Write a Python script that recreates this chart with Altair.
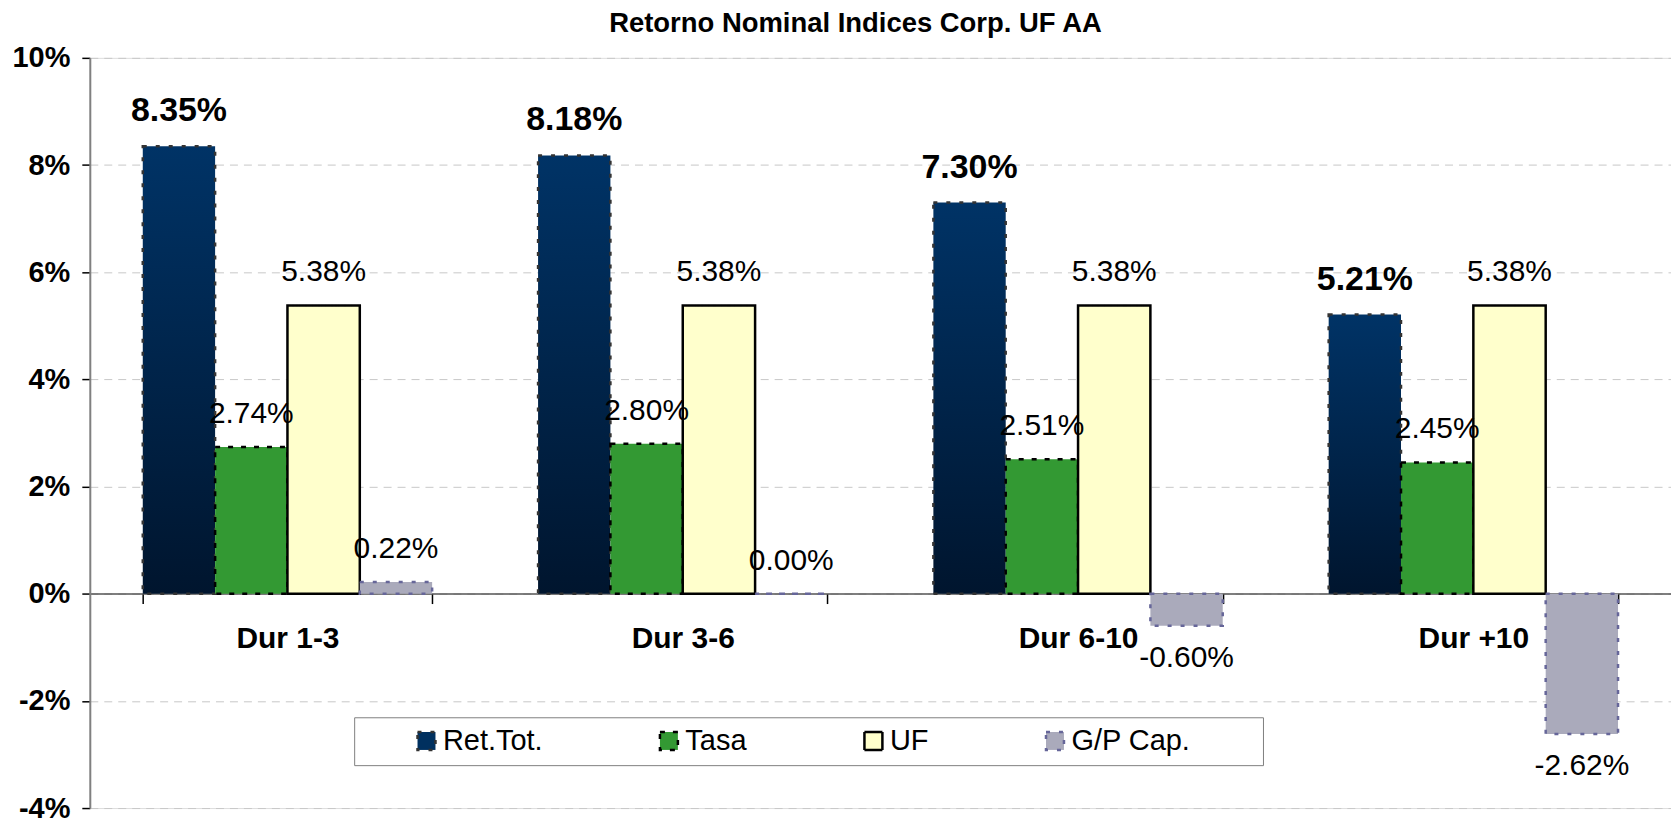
import altair as alt
import pandas as pd

# ---- data ----
categories = ["Dur 1-3", "Dur 3-6", "Dur 6-10", "Dur +10"]
series_names = ["Ret.Tot.", "Tasa", "UF", "G/P Cap."]
ret_tot = [8.35, 8.18, 7.30, 5.21]
tasa = [2.74, 2.80, 2.51, 2.45]
uf = [5.38, 5.38, 5.38, 5.38]
gp_cap = [0.22, 0.00, -0.60, -2.62]
y_ticks = [-4, -2, 0, 2, 4, 6, 8, 10]

title_text = "Retorno Nominal  Indices Corp. UF AA"

fills = ["#00305f", "#339933", "#ffffcc", "#aaaabb"]
strokes = ["#333333", "#000000", "#000000", "#666699"]
dashes = [[4, 9], [5, 8], [1, 0], [4, 9]]

rows = []
for s, vals in zip(series_names, [ret_tot, tasa, uf, gp_cap]):
    for c, v in zip(categories, vals):
        rows.append({"category": c, "series": s, "value": v})
df = pd.DataFrame(rows)

FONT = "Liberation Sans"
PAD_CHAR = "\u2800"

gradient = {
    "gradient": "linear",
    "x1": 0, "y1": 0, "x2": 0, "y2": 1,
    "stops": [
        {"offset": 0, "color": "#003366"},
        {"offset": 1, "color": "#00152e"},
    ],
}

x_enc = alt.X(
    "category:N",
    sort=categories,
    scale=alt.Scale(domain=categories, paddingInner=0.268, paddingOuter=0.134),
    title=None,
    axis=alt.Axis(
        offset=-215,
        grid=False,
        tickBand="extent",
        tickSize=10,
        tickColor="#000000",
        tickWidth=1.5,
        domainColor="#555555",
        domainWidth=1.5,
        labelFont=FONT,
        labelFontSize=30,
        labelFontWeight="bold",
        labelColor="#000000",
        labelAngle=0,
        labelBaseline="alphabetic",
        labelPadding=44,
    ),
)
xo_enc = alt.XOffset(
    "series:N",
    sort=series_names,
    scale=alt.Scale(domain=series_names, paddingInner=0, paddingOuter=0),
)
y_enc = alt.Y(
    "value:Q",
    scale=alt.Scale(domain=[-4, 10], nice=False, zero=False),
    title=None,
    axis=alt.Axis(
        values=y_ticks,
        labelExpr="datum.value + '%'",
        labelFont=FONT,
        labelFontSize=29,
        labelFontWeight="bold",
        labelColor="#000000",
        labelPadding=12,
        tickSize=8,
        tickColor="#000000",
        tickWidth=1.5,
        domainColor="#808080",
        domainWidth=2,
        grid=True,
        gridColor="#c8c8c8",
        gridDash=[8, 6],
        gridWidth=1,
    ),
)

legend = alt.Legend(
    orient="none",
    legendX=265,
    legendY=661,
    direction="horizontal",
    title="MM",
    titleOrient="left",
    titleColor="#ffffff",
    titleFont=FONT,
    titleFontSize=29,
    titlePadding=0,
    labelFont=FONT,
    labelFontSize=29,
    labelColor="#000000",
    labelLimit=400,
    labelOffset=2,
    labelExpr="datum.label == 'G/P Cap.' ? datum.label + '" + PAD_CHAR * 3 + "' : datum.label",
    symbolType="square",
    symbolSize=324,
    symbolStrokeWidth=2.5,
    columnPadding=112,
    strokeColor="#808080",
    fillColor="#ffffff",
    padding=9,
)

base = alt.Chart(df)

bars = base.mark_bar(strokeWidth=2.5).encode(
    x=x_enc,
    xOffset=xo_enc,
    y=y_enc,
    fill=alt.condition(
        alt.datum.series == "Ret.Tot.",
        alt.value(gradient),
        alt.Fill("series:N", sort=series_names,
                 scale=alt.Scale(domain=series_names, range=fills), legend=legend),
    ),
    stroke=alt.Stroke("series:N", sort=series_names,
                      scale=alt.Scale(domain=series_names, range=strokes), legend=legend),
    strokeDash=alt.StrokeDash("series:N", sort=series_names,
                              scale=alt.Scale(domain=series_names, range=dashes), legend=legend),
)

label_calc = "replace(format(datum.value, '.2f'), '\u2212', '-') + '%'"

ret_labels = base.transform_filter(
    alt.datum.series == "Ret.Tot."
).transform_calculate(label=label_calc).mark_text(
    font=FONT, fontSize=34, fontWeight="bold", color="#000000",
    align="center", baseline="alphabetic", dy=-25,
).encode(x=x_enc, xOffset=xo_enc, y=y_enc, text="label:N")

pos_labels = base.transform_filter(
    (alt.datum.series != "Ret.Tot.") & (alt.datum.value >= 0)
).transform_calculate(label=label_calc).mark_text(
    font=FONT, fontSize=30, color="#000000",
    align="center", baseline="alphabetic", dy=-24,
).encode(x=x_enc, xOffset=xo_enc, y=y_enc, text="label:N")

neg_labels = base.transform_filter(
    alt.datum.value < 0
).transform_calculate(label=label_calc).mark_text(
    font=FONT, fontSize=30, color="#000000",
    align="center", baseline="alphabetic", dy=41,
).encode(x=x_enc, xOffset=xo_enc, y=y_enc, text="label:N")

chart = alt.layer(bars, ret_labels, pos_labels, neg_labels).properties(
    width=1585,
    height=752,
    autosize=alt.AutoSizeParams(type="none"),
    padding={"left": 82, "top": 49, "right": 0, "bottom": 12},
    title=alt.TitleParams(
        text=title_text,
        font=FONT,
        fontSize=27.5,
        fontWeight="bold",
        color="#000000",
        anchor="middle",
        frame="group",
        dx=-25,
        dy=30,
        baseline="alphabetic",
        offset=14,
    ),
).configure_view(stroke=None).configure(background="#ffffff")

chart.save("out.html", embed_options={"renderer": "svg", "actions": False})
